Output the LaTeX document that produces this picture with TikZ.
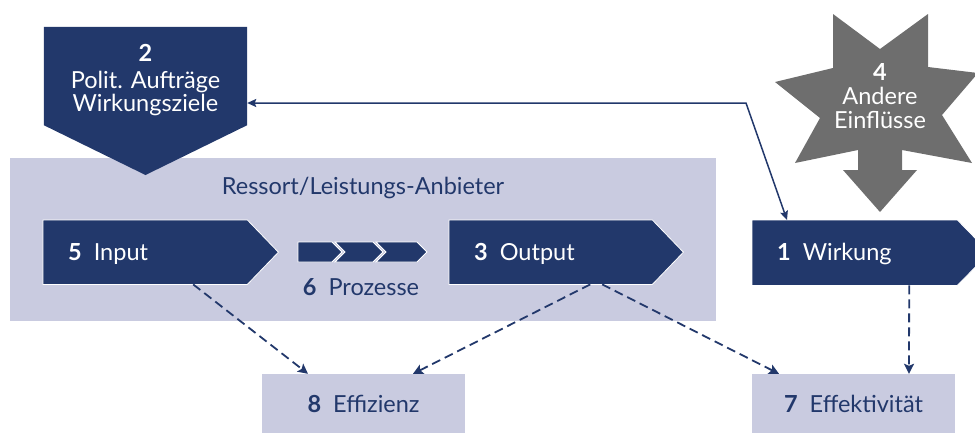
\documentclass[tikz,border=0pt]{standalone}
\usepackage{fontspec}
\setmainfont{Lato}
\usetikzlibrary{arrows.meta,calc}
\definecolor{navy}{HTML}{22386B}
\definecolor{lav}{HTML}{C9CBE0}
\definecolor{stargray}{HTML}{6E6E6E}
\pgfdeclarelayer{background}
\pgfdeclarelayer{back0}
\pgfsetlayers{back0,background,main}
\begin{document}
\begin{tikzpicture}[x=1pt,y=-1pt,
  txt/.style={font=\fontsize{23.5}{23}\selectfont},
  darkbox/.style={txt, text=white, rectangle, inner ysep=0pt, inner xsep=25pt,
    minimum height=64pt, align=left, anchor=north west, text height=16pt, text depth=0pt},
  darkfill/.style={fill=navy, draw=white, line width=0.8pt},
  lightbox/.style={txt, text=navy, rectangle, fill=lav, inner sep=0pt,
    minimum width=203pt, minimum height=61pt, text height=16pt, text depth=0pt},
  dasharrow/.style={navy, line width=1.8pt, dash pattern=on 9pt off 5pt,
    -{Stealth[length=10pt,width=10pt,inset=2pt]}},
  solidarrow/.style={navy, line width=1.5pt,
    {Stealth[length=9pt,width=8pt,inset=1.5pt]}-{Stealth[length=9pt,width=8pt,inset=1.5pt]}},
]
\useasboundingbox (0,0) rectangle (975,432);

% Ressort container
\begin{pgfonlayer}{back0}
\node[fill=lav, rectangle, inner sep=0pt, minimum width=706pt, minimum height=163pt,
  anchor=north west] (ressort) at (10,158) {};
\end{pgfonlayer}
\node[txt, text=navy] (ressortlabel) at (363,188) {Ressort/Leistungs-Anbieter};

% 2 Polit. Auftraege (pentagon)
\node[txt, text=white, align=center, rectangle, inner sep=0pt,
  minimum width=203pt, minimum height=98pt] (polit) at (145.5,76)
  {\rule{0pt}{26pt}\bfseries 2\\[4pt]Polit. Aufträge\\Wirkungsziele};
\begin{pgfonlayer}{background}
  \fill[navy] (polit.north west) -- (polit.north east) -- (polit.south east)
    -- (145.5,175) -- (polit.south west) -- cycle;
\end{pgfonlayer}

% 5 Input
\node[darkbox, text width=154pt] (input) at (43,220) {\textbf{5}\hspace{12pt}Input};
% 3 Output
\node[darkbox, text width=153pt] (output) at (449,220) {\textbf{3}\hspace{12pt}Output};
% 1 Wirkung
\node[darkbox, text width=155pt, minimum height=65pt] (wirkung) at (752,220) {\textbf{1}\hspace{12pt}Wirkung};
\begin{pgfonlayer}{background}
  \foreach \n/\t in {input/31, output/31, wirkung/32}{
    \filldraw[darkfill] (\n.north west) -- (\n.north east) -- ([xshift=\t pt]\n.east)
      -- (\n.south east) -- (\n.south west) -- cycle;
  }
\end{pgfonlayer}

% 6 Prozesse
\filldraw[darkfill] (298,242) -- (332,242) -- (342,252) -- (332,262) -- (298,262) -- cycle;
\filldraw[darkfill] (335,242) -- (373,242) -- (383,252) -- (373,262) -- (335,262) -- (345,252) -- cycle;
\filldraw[darkfill] (376,242) -- (417,242) -- (427,252) -- (417,262) -- (376,262) -- (386,252) -- cycle;
\node[txt, text=navy, text height=16pt, text depth=0pt] (prozesse) at (361,287) {\textbf{6}\hspace{12pt}Prozesse};

% 4 Andere Einfluesse (star)
\fill[stargray] (833,14) -- (880,49) -- (928,14) -- (928,67) -- (978,73) -- (942,115)
  -- (972,163) -- (902,150) -- (902,170) -- (917,170) -- (880,212) -- (843,170)
  -- (858,170) -- (858,150) -- (795,163) -- (820,118) -- (775,82) -- (833,68) -- cycle;
\node[txt, text=white, align=center, inner sep=0pt] (einfluss) at (880,96)
  {\bfseries 4\\[1pt]Andere\\[1pt]Einflüsse};

% 8 Effizienz, 7 Effektivitaet
\node[lightbox] (effizienz) at (363.5,404.5) {\textbf{8}\hspace{12pt}Effizienz};
\node[lightbox] (effekt) at (853.5,404.5) {\textbf{7}\hspace{12pt}Effektivität};

% connectors
\draw[dasharrow] ([xshift=48pt]input.south) -- ([xshift=-55.5pt]effizienz.north);
\draw[dasharrow] ([xshift=39.5pt]output.south) -- ([xshift=49.5pt]effizienz.north);
\draw[dasharrow] ([xshift=51.5pt]output.south) -- ([xshift=-74.5pt]effekt.north);
\draw[dasharrow] ([xshift=54.5pt]wirkung.south) -- ([xshift=55.5pt]effekt.north);

\coordinate (bend) at (746,103);
\draw[solidarrow] ([xshift=35pt]wirkung.north west) -- (bend) -- (bend -| polit.east);
\end{tikzpicture}
\end{document}
